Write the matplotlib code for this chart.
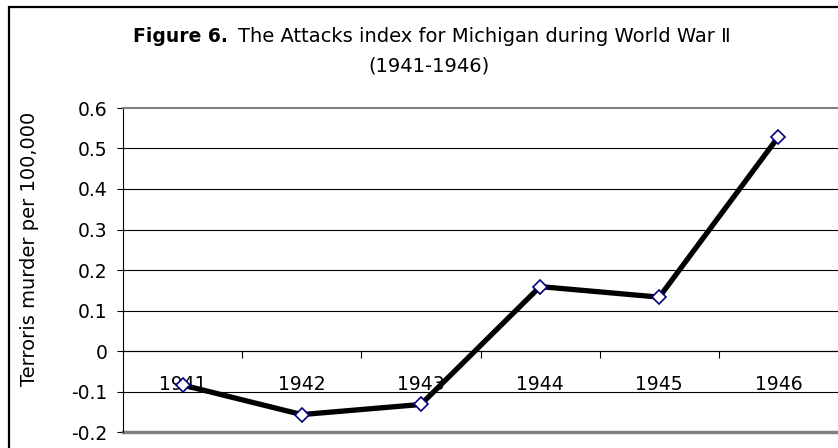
import matplotlib.pyplot as plt
from matplotlib.patches import Rectangle

years = ['1941', '1942', '1943', '1944', '1945', '1946']
attacks_index = [-0.084, -0.157, -0.132, 0.159, 0.133, 0.529]
y_ticks = [-0.2, -0.1, 0, 0.1, 0.2, 0.3, 0.4, 0.5, 0.6]
y_tick_labels = ['-0.2', '-0.1', '0', '0.1', '0.2', '0.3', '0.4', '0.5', '0.6']

plt.rcParams['font.family'] = ['DejaVu Sans']

W, H = 838, 448
fig = plt.figure(figsize=(W / 100, H / 100), dpi=100)

# outer chart frame (runs off the right and bottom edges like the source)
fig.patches.append(Rectangle((9 / W, -0.2), 1.2, (H - 7) / H + 0.2,
                             transform=fig.transFigure, fill=False,
                             edgecolor='black', linewidth=1.6, zorder=0))

ax = fig.add_axes([123 / W, 16 / H, 715 / W, 324 / H])
x = list(range(len(years)))

ax.set_xlim(-0.5, len(years) - 0.5)
ax.set_ylim(-0.2, 0.6)

# horizontal gridlines
for v in y_ticks[1:-1]:
    ax.axhline(v, color='black', linewidth=0.8, zorder=1)

ax.plot(x, attacks_index, color='black', linewidth=3.8, zorder=3,
        solid_capstyle='butt')
ax.plot(x, attacks_index, linestyle='none', marker='D', markersize=7.5,
        markerfacecolor='white', markeredgecolor='#000080',
        markeredgewidth=1.2, zorder=4)

ax.set_yticks(y_ticks)
ax.set_yticklabels(y_tick_labels, fontsize=13.5)
ax.tick_params(axis='y', direction='out', length=4, width=0.8, pad=7)

# category axis sits on y = 0
ax.spines['bottom'].set_position(('data', 0))
ax.spines['bottom'].set_color('black')
ax.spines['bottom'].set_linewidth(0.8)
ax.set_xticks(x)
ax.set_xticklabels(years, fontsize=13.5)
ax.set_xticks([i + 0.5 for i in x[:-1]], minor=True)
ax.tick_params(axis='x', which='major', length=0, pad=17)
ax.tick_params(axis='x', which='minor', direction='out', length=5, width=0.8)

ax.spines['right'].set_visible(False)
ax.spines['top'].set_color('#808080')
ax.spines['top'].set_linewidth(1.5)
ax.spines['left'].set_color('black')
ax.spines['left'].set_linewidth(0.8)
ax.axhline(-0.2, color='#808080', linewidth=2.5, zorder=2, clip_on=False)

fig.text(30 / W, 1 - 249 / H, 'Terroris murder per 100,000', rotation=90,
         ha='center', va='center', fontsize=14)

# title: bold prefix + normal text on the first line
fig.text(133 / W, 1 - 42 / H, 'Figure 6.', fontweight='bold',
         ha='left', va='baseline', fontsize=13.5)
fig.text(238 / W, 1 - 42 / H,
         'The Attacks index for Michigan during World War \u2161',
         ha='left', va='baseline', fontsize=14)
fig.text(429 / W, 1 - 72 / H, '(1941-1946)', ha='center', va='baseline',
         fontsize=14)

fig.savefig('out.png', dpi=100)
